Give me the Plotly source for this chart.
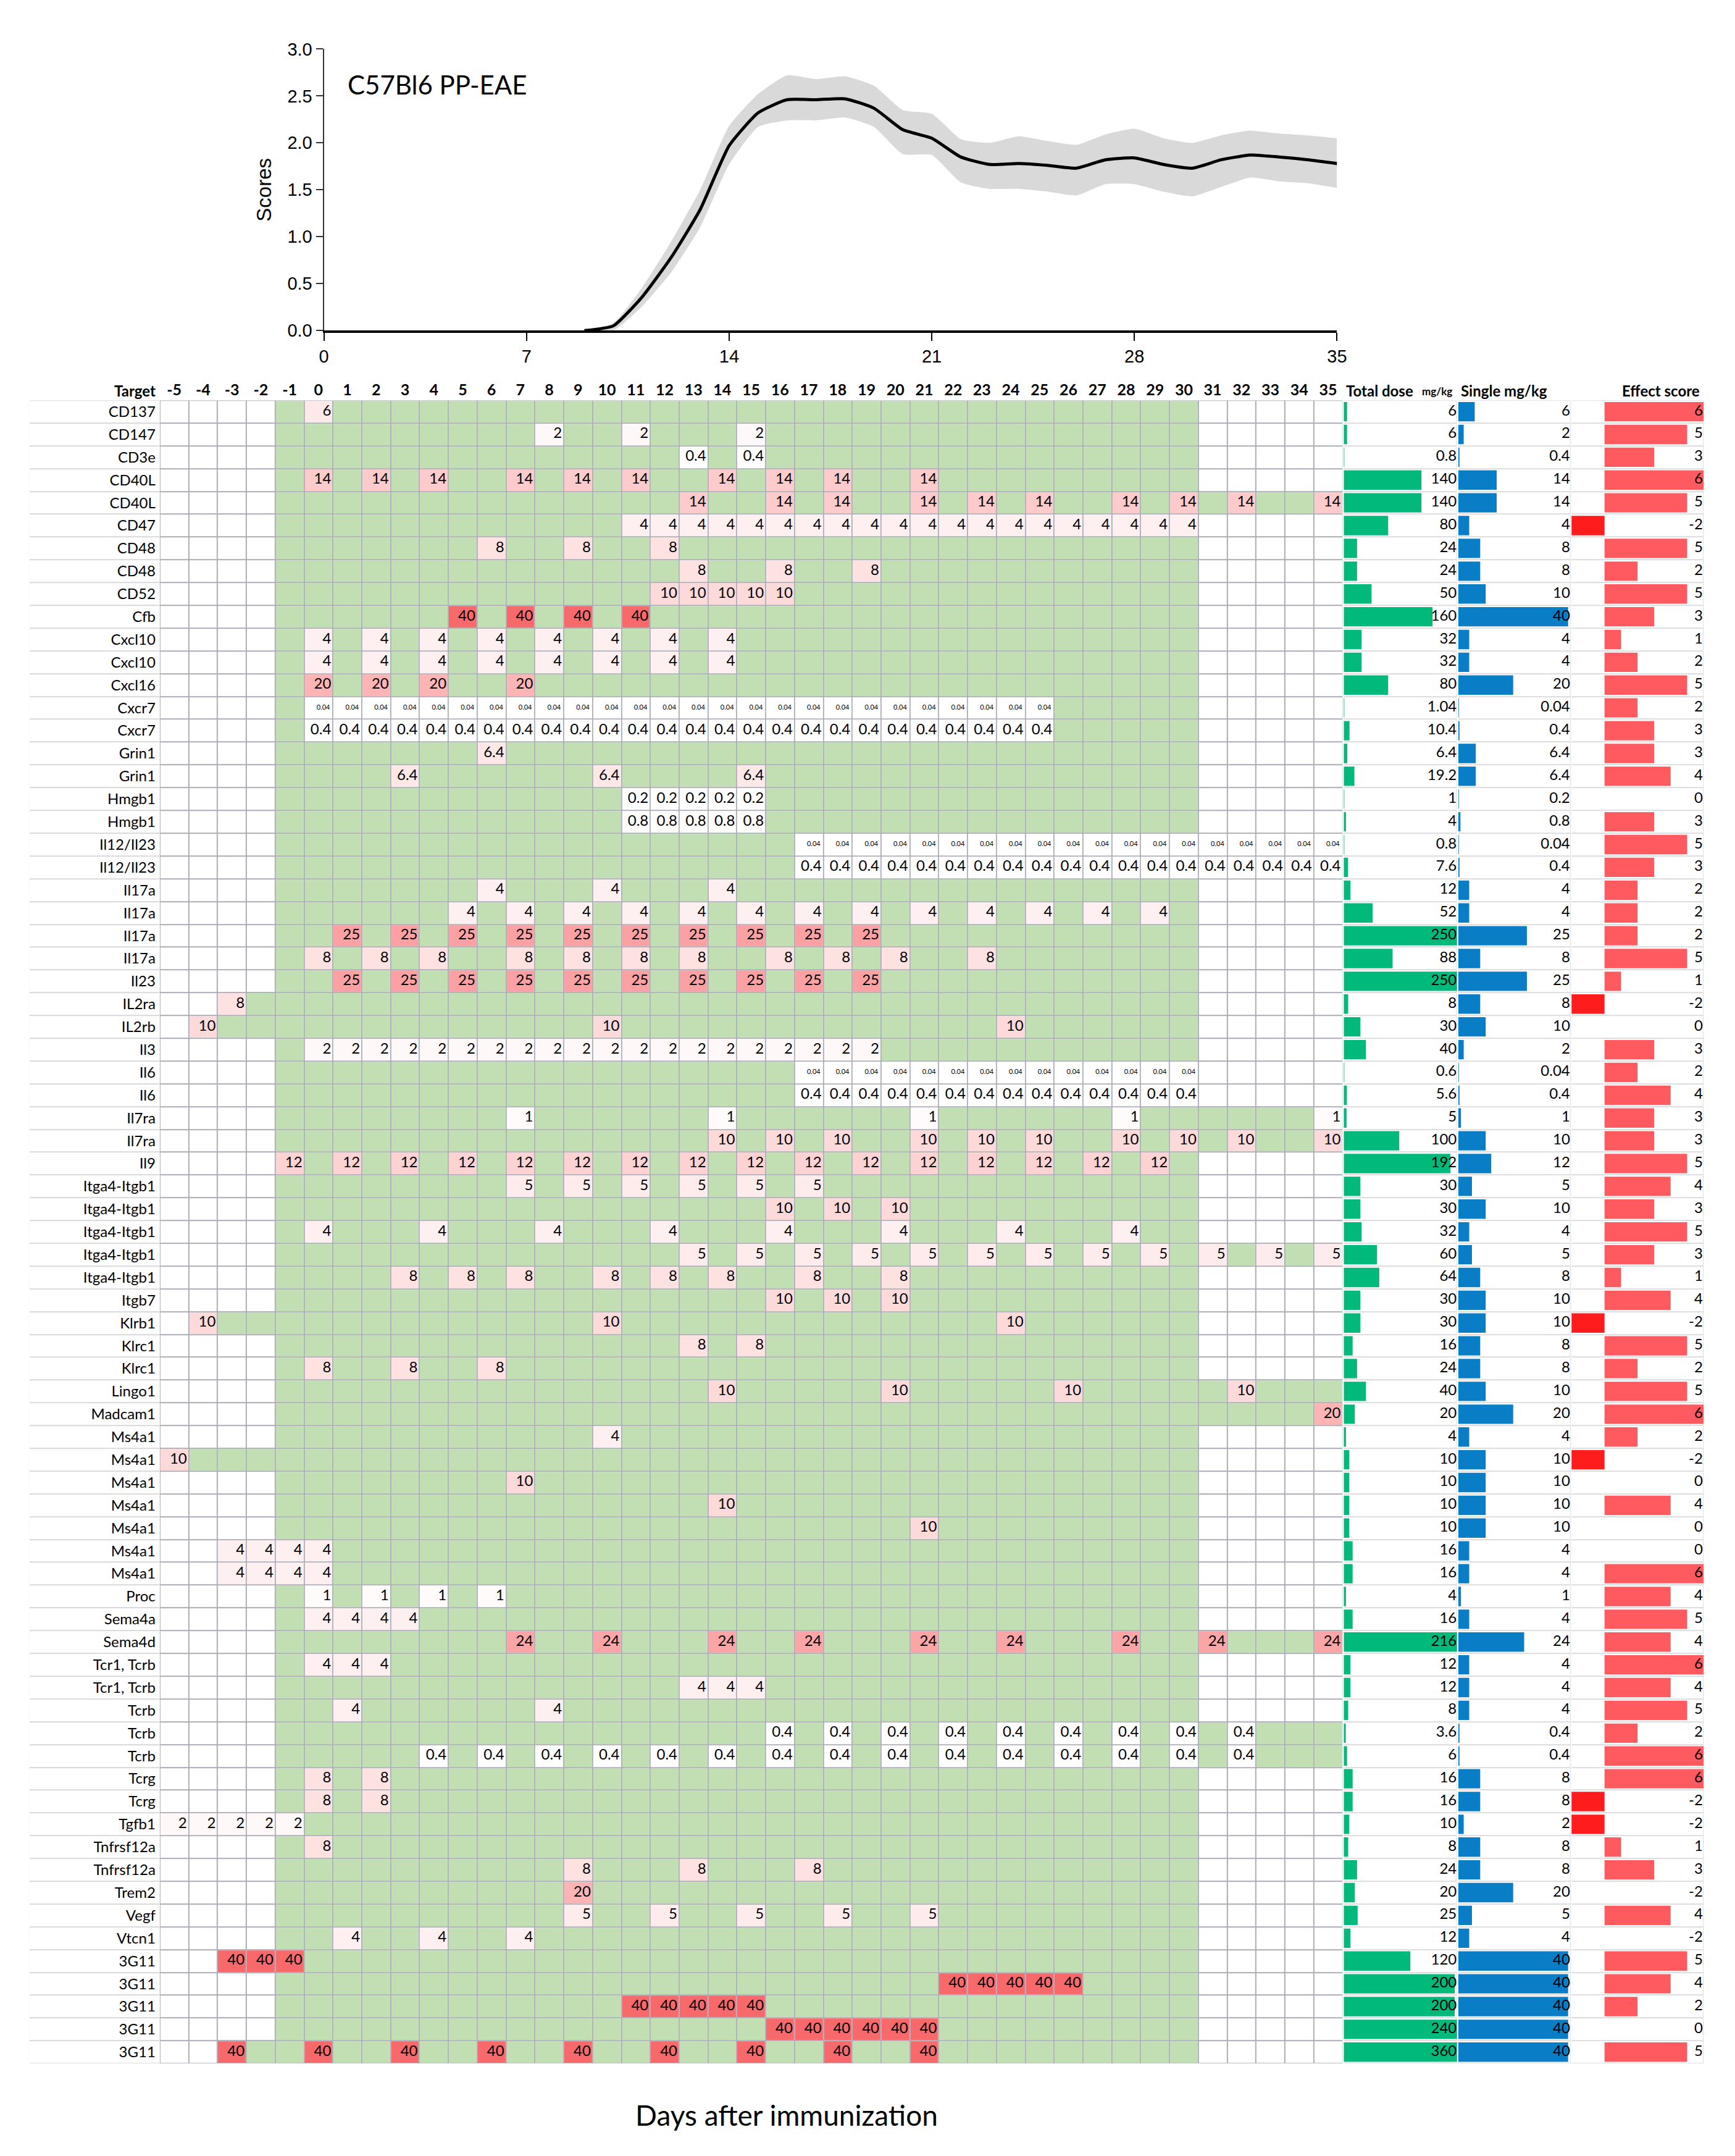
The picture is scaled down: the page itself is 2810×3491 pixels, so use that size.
import plotly.graph_objects as go

# ---------------- top chart data ----------------
score_days = [9, 10, 11, 12, 13, 14, 15, 16, 17, 18, 19, 20, 21, 22, 23, 24, 25, 26, 27, 28, 29, 30, 31, 32, 33, 34, 35]
score_mean = [0, 0.05, 0.36, 0.78, 1.29, 1.97, 2.32, 2.46, 2.46, 2.47, 2.37, 2.14, 2.05, 1.85, 1.77, 1.78, 1.76, 1.73, 1.82, 1.84, 1.77, 1.73, 1.82, 1.87, 1.85, 1.82, 1.78]
score_upper = [0, 0.08, 0.46, 0.95, 1.5, 2.18, 2.52, 2.72, 2.68, 2.71, 2.61, 2.35, 2.31, 2.04, 2.0, 2.07, 2.02, 1.98, 2.09, 2.15, 2.05, 2.0, 2.08, 2.13, 2.1, 2.08, 2.05]
score_lower = [0, 0.0, 0.26, 0.62, 1.1, 1.77, 2.17, 2.24, 2.24, 2.27, 2.17, 1.88, 1.87, 1.58, 1.51, 1.51, 1.48, 1.44, 1.56, 1.56, 1.48, 1.43, 1.53, 1.63, 1.59, 1.57, 1.52]
score_ticks = [0, 7, 14, 21, 28, 35]

# ---------------- table data ----------------
days = [-5, -4, -3, -2, -1, 0, 1, 2, 3, 4, 5, 6, 7, 8, 9, 10, 11, 12, 13, 14, 15, 16, 17, 18, 19, 20,
        21, 22, 23, 24, 25, 26, 27, 28, 29, 30, 31, 32, 33, 34, 35]

targets = ["CD137", "CD147", "CD3e", "CD40L", "CD40L", "CD47", "CD48", "CD48", "CD52", "Cfb",
           "Cxcl10", "Cxcl10", "Cxcl16", "Cxcr7", "Cxcr7", "Grin1", "Grin1", "Hmgb1", "Hmgb1", "Il12/Il23",
           "Il12/Il23", "Il17a", "Il17a", "Il17a", "Il17a", "Il23", "IL2ra", "IL2rb", "Il3", "Il6",
           "Il6", "Il7ra", "Il7ra", "Il9", "Itga4-Itgb1", "Itga4-Itgb1", "Itga4-Itgb1", "Itga4-Itgb1", "Itga4-Itgb1", "Itgb7",
           "Klrb1", "Klrc1", "Klrc1", "Lingo1", "Madcam1", "Ms4a1", "Ms4a1", "Ms4a1", "Ms4a1", "Ms4a1",
           "Ms4a1", "Ms4a1", "Proc", "Sema4a", "Sema4d", "Tcr1, Tcrb", "Tcr1, Tcrb", "Tcrb", "Tcrb", "Tcrb",
           "Tcrg", "Tcrg", "Tgfb1", "Tnfrsf12a", "Tnfrsf12a", "Trem2", "Vegf", "Vtcn1", "3G11", "3G11",
           "3G11", "3G11", "3G11"]

dose_days = [
    [0], [8, 11, 15], [13, 15], [0, 2, 4, 7, 9, 11, 14, 16, 18, 21], [13, 16, 18, 21, 23, 25, 28, 30, 32, 35],
    [11, 12, 13, 14, 15, 16, 17, 18, 19, 20, 21, 22, 23, 24, 25, 26, 27, 28, 29, 30],
    [6, 9, 12], [13, 16, 19], [12, 13, 14, 15, 16], [5, 7, 9, 11],
    [0, 2, 4, 6, 8, 10, 12, 14], [0, 2, 4, 6, 8, 10, 12, 14], [0, 2, 4, 7],
    [0, 1, 2, 3, 4, 5, 6, 7, 8, 9, 10, 11, 12, 13, 14, 15, 16, 17, 18, 19, 20, 21, 22, 23, 24, 25],
    [0, 1, 2, 3, 4, 5, 6, 7, 8, 9, 10, 11, 12, 13, 14, 15, 16, 17, 18, 19, 20, 21, 22, 23, 24, 25],
    [6], [3, 10, 15], [11, 12, 13, 14, 15], [11, 12, 13, 14, 15],
    [17, 18, 19, 20, 21, 22, 23, 24, 25, 26, 27, 28, 29, 30, 31, 32, 33, 34, 35],
    [17, 18, 19, 20, 21, 22, 23, 24, 25, 26, 27, 28, 29, 30, 31, 32, 33, 34, 35],
    [6, 10, 14], [5, 7, 9, 11, 13, 15, 17, 19, 21, 23, 25, 27, 29], [1, 3, 5, 7, 9, 11, 13, 15, 17, 19],
    [0, 2, 4, 7, 9, 11, 13, 16, 18, 20, 23], [1, 3, 5, 7, 9, 11, 13, 15, 17, 19],
    [-3], [-4, 10, 24], [0, 1, 2, 3, 4, 5, 6, 7, 8, 9, 10, 11, 12, 13, 14, 15, 16, 17, 18, 19],
    [17, 18, 19, 20, 21, 22, 23, 24, 25, 26, 27, 28, 29, 30],
    [17, 18, 19, 20, 21, 22, 23, 24, 25, 26, 27, 28, 29, 30],
    [7, 14, 21, 28, 35], [14, 16, 18, 21, 23, 25, 28, 30, 32, 35],
    [-1, 1, 3, 5, 7, 9, 11, 13, 15, 17, 19, 21, 23, 25, 27, 29],
    [7, 9, 11, 13, 15, 17], [16, 18, 20], [0, 4, 8, 12, 16, 20, 24, 28],
    [13, 15, 17, 19, 21, 23, 25, 27, 29, 31, 33, 35], [3, 5, 7, 10, 12, 14, 17, 20], [16, 18, 20],
    [-4, 10, 24], [13, 15], [0, 3, 6], [14, 20, 26, 32], [35],
    [10], [-5], [7], [14], [21], [-3, -2, -1, 0], [-3, -2, -1, 0],
    [0, 2, 4, 6], [0, 1, 2, 3], [7, 10, 14, 17, 21, 24, 28, 31, 35], [0, 1, 2], [13, 14, 15], [1, 8],
    [16, 18, 20, 22, 24, 26, 28, 30, 32], [4, 6, 8, 10, 12, 14, 16, 18, 20, 22, 24, 26, 28, 30, 32],
    [0, 2], [0, 2], [-5, -4, -3, -2, -1], [0], [9, 13, 17], [9], [9, 12, 15, 18, 21], [1, 4, 7],
    [-3, -2, -1], [22, 23, 24, 25, 26], [11, 12, 13, 14, 15], [16, 17, 18, 19, 20, 21],
    [-3, 0, 3, 6, 9, 12, 15, 18, 21],
]

single_dose = [6, 2, 0.4, 14, 14, 4, 8, 8, 10, 40,
               4, 4, 20, 0.04, 0.4, 6.4, 6.4, 0.2, 0.8, 0.04,
               0.4, 4, 4, 25, 8, 25, 8, 10, 2, 0.04,
               0.4, 1, 10, 12, 5, 10, 4, 5, 8, 10,
               10, 8, 8, 10, 20, 4, 10, 10, 10, 10,
               4, 4, 1, 4, 24, 4, 4, 4, 0.4, 0.4,
               8, 8, 2, 8, 8, 20, 5, 4, 40, 40,
               40, 40, 40]

total_dose = [6, 6, 0.8, 140, 140, 80, 24, 24, 50, 160,
              32, 32, 80, 1.04, 10.4, 6.4, 19.2, 1, 4, 0.8,
              7.6, 12, 52, 250, 88, 250, 8, 30, 40, 0.6,
              5.6, 5, 100, 192, 30, 30, 32, 60, 64, 30,
              30, 16, 24, 40, 20, 4, 10, 10, 10, 10,
              16, 16, 4, 16, 216, 12, 12, 8, 3.6, 6,
              16, 16, 10, 8, 24, 20, 25, 12, 120, 200,
              200, 240, 360]

effect_score = [6, 5, 3, 6, 5, -2, 5, 2, 5, 3,
                1, 2, 5, 2, 3, 3, 4, 0, 3, 5,
                3, 2, 2, 2, 5, 1, -2, 0, 3, 2,
                4, 3, 3, 5, 4, 3, 5, 3, 1, 4,
                -2, 5, 2, 5, 6, 2, -2, 0, 4, 0,
                0, 6, 4, 5, 4, 6, 4, 5, 2, 6,
                6, -2, -2, 1, 3, -2, 4, -2, 5, 4,
                2, 0, 5]
no_bar_targets = ["Trem2", "Vtcn1"]

# treatment window (green period) per row
window_start = [-1, -1, -1, -1, -1, -1, -1, -1, -1, -1,
                -1, -1, -1, -1, -1, -1, -1, -1, -1, -1,
                -1, -1, -1, -1, -1, -1, -3, -4, -1, -1,
                -1, -1, -1, -1, -1, -1, -1, -1, -1, -1,
                -4, -1, -1, -1, -1, -1, -5, -1, -1, -1,
                -3, -3, -1, -1, -1, -1, -1, -1, -1, -1,
                -1, -1, -5, -1, -1, -1, -1, -1, -3, -1,
                -1, -1, -3]
window_end = [30, 30, 30, 30, 35, 30, 30, 30, 30, 30,
              30, 30, 30, 30, 30, 30, 30, 30, 30, 35,
              35, 30, 30, 30, 30, 30, 30, 30, 30, 30,
              30, 35, 35, 30, 30, 30, 30, 35, 30, 30,
              30, 30, 30, 35, 35, 30, 30, 30, 30, 30,
              30, 30, 30, 30, 35, 30, 30, 30, 35, 35,
              30, 30, 30, 30, 30, 30, 30, 30, 30, 30,
              30, 30, 30]

# ---------------- build figure ----------------
FONT = "Lato, Open Sans, sans-serif"
ARIAL = "Liberation Sans, Arial, sans-serif"
n = len(targets)
rows = list(range(n))


def fmt(v):
    return f"{v:g}"


green_z, dose_z = [], []
lab_x, lab_y, lab_t = [], [], []
sm_x, sm_y, sm_t = [], [], []
for r in range(n):
    gz, dz = [], []
    for d in days:
        if d in dose_days[r]:
            v = single_dose[r]
            dz.append(v)
            gz.append(None)
            if v < 0.1:
                sm_x.append(d + 0.40); sm_y.append(r); sm_t.append(fmt(v))
            else:
                lab_x.append(d + 0.44); lab_y.append(r); lab_t.append(fmt(v))
        else:
            dz.append(None)
            gz.append(1 if window_start[r] <= d <= window_end[r] else None)
    green_z.append(gz); dose_z.append(dz)

fig = go.Figure()


def solid(c):
    return [[0, c], [1, c]]


# label column background
fig.add_trace(go.Heatmap(z=[[1] for _ in rows], x=[0, 1], y=rows, colorscale=solid("#D9D9D9"),
                         showscale=False, hoverinfo="skip", xaxis="x", yaxis="y"))
fig.add_trace(go.Heatmap(z=[[1] for _ in rows], x=[0, 1], y=rows, colorscale=solid("#FFFFFF"),
                         showscale=False, hoverinfo="skip", ygap=2, xaxis="x", yaxis="y"))

# day grid
allz = [[1 for _ in days] for _ in rows]
fig.add_trace(go.Heatmap(z=allz, x=days, y=rows, colorscale=solid("#ADADB8"), showscale=False,
                         hoverinfo="skip", xaxis="x2", yaxis="y2"))
fig.add_trace(go.Heatmap(z=allz, x=days, y=rows, colorscale=solid("#FFFFFF"), showscale=False,
                         hoverinfo="skip", xgap=2, ygap=2, xaxis="x2", yaxis="y2"))
fig.add_trace(go.Heatmap(z=green_z, x=days, y=rows, colorscale=solid("#C1DFB3"), showscale=False,
                         hoverinfo="skip", xgap=2, ygap=2, xaxis="x2", yaxis="y2"))
red_scale = [[0, "#FFFFFF"], [1, "#F8696B"]]
fig.add_trace(go.Heatmap(z=dose_z, x=days, y=rows, colorscale=red_scale, zmin=0, zmax=40, showscale=False,
                         hoverinfo="skip", xgap=2, ygap=2, xaxis="x2", yaxis="y2"))
fig.add_trace(go.Scatter(x=lab_x, y=lab_y, mode="text", text=lab_t, textposition="middle left",
                         textfont=dict(family=FONT, size=24, color="black"), cliponaxis=False,
                         hoverinfo="skip", xaxis="x2", yaxis="y2"))
fig.add_trace(go.Scatter(x=sm_x, y=sm_y, mode="text", text=sm_t, textposition="middle left",
                         textfont=dict(family=FONT, size=11, color="black"), cliponaxis=False,
                         hoverinfo="skip", xaxis="x2", yaxis="y2"))

# right-hand columns
cols = [("x3", "y3", 204, total_dose, "#00B97A", 203.5),
        ("x4", "y4", 41, single_dose, "#0A7DC7", 40.7)]
for xa, ya, xmax, vals, color, txtx in cols:
    fig.add_trace(go.Heatmap(z=[[1] for _ in rows], x=[0, xmax], y=rows, colorscale=solid("#DCDCDC"),
                             showscale=False, hoverinfo="skip", xaxis=xa, yaxis=ya))
    fig.add_trace(go.Heatmap(z=[[1] for _ in rows], x=[0, xmax], y=rows, colorscale=solid("#FFFFFF"),
                             showscale=False, hoverinfo="skip", ygap=2, xgap=1, xaxis=xa, yaxis=ya))
    fig.add_trace(go.Bar(x=vals, y=rows, orientation="h", marker=dict(color=color, line=dict(width=0)),
                         width=0.85, hoverinfo="skip", xaxis=xa, yaxis=ya))
    fig.add_trace(go.Scatter(x=[txtx] * n, y=rows, mode="text", text=[fmt(v) for v in vals],
                             textposition="middle left", cliponaxis=False,
                             textfont=dict(family=FONT, size=24, color="black"),
                             hoverinfo="skip", xaxis=xa, yaxis=ya))

# effect score column
fig.add_trace(go.Heatmap(z=[[1] for _ in rows], x=[-2, 6], y=rows, colorscale=solid("#DCDCDC"),
                         showscale=False, hoverinfo="skip", xaxis="x5", yaxis="y5"))
fig.add_trace(go.Heatmap(z=[[1] for _ in rows], x=[-2, 6], y=rows, colorscale=solid("#FFFFFF"),
                         showscale=False, hoverinfo="skip", ygap=2, xgap=1, xaxis="x5", yaxis="y5"))
eff_bar = [None if targets[i] in no_bar_targets else effect_score[i] for i in rows]
eff_col = ["#FF1C1C" if v < 0 else "#FF5A60" for v in effect_score]
fig.add_trace(go.Bar(x=eff_bar, y=rows, orientation="h", marker=dict(color=eff_col, line=dict(width=0)),
                     width=0.85, hoverinfo="skip", xaxis="x5", yaxis="y5"))
fig.add_trace(go.Scatter(x=[5.95] * n, y=rows, mode="text", text=[fmt(v) for v in effect_score],
                         textposition="middle left", cliponaxis=False,
                         textfont=dict(family=FONT, size=24, color="black"),
                         hoverinfo="skip", xaxis="x5", yaxis="y5"))

# top clinical score chart
fig.add_trace(go.Scatter(x=score_days, y=score_upper, mode="lines", line=dict(width=0, shape="spline", smoothing=0.5),
                         hoverinfo="skip", xaxis="x6", yaxis="y6"))
fig.add_trace(go.Scatter(x=score_days, y=score_lower, mode="lines", line=dict(width=0, shape="spline", smoothing=0.5),
                         fill="tonexty", fillcolor="#D9D9D9", hoverinfo="skip", xaxis="x6", yaxis="y6"))
fig.add_trace(go.Scatter(x=score_days, y=score_mean, mode="lines",
                         line=dict(color="black", width=5, shape="spline", smoothing=0.5),
                         hoverinfo="skip", xaxis="x6", yaxis="y6"))

W, H = 2810, 3491


def px(x):
    return x / W


def py(y):
    return 1 - y / H


grid_dom = [py(3356), py(638)]
rng = [n - 0.5, -0.5]
hidden = dict(visible=False, showgrid=False, zeroline=False)

fig.update_layout(
    width=W, height=H, margin=dict(l=0, r=0, t=0, b=0),
    paper_bgcolor="white", plot_bgcolor="white", showlegend=False,
    font=dict(family=FONT, color="black"),
    xaxis=dict(domain=[px(40), px(253)], range=[0, 1], anchor="y", **hidden),
    yaxis=dict(domain=grid_dom, range=rng, anchor="x", **hidden),
    xaxis2=dict(domain=[px(253), px(2185)], range=[-5.5, 35.5], anchor="y2", side="top",
                tickmode="array", tickvals=days, ticktext=[str(d) for d in days],
                tickfont=dict(family=FONT, size=25, color="black", weight="bold"),
                ticks="", showgrid=False, zeroline=False, showline=False, ticklabelstandoff=2),
    yaxis2=dict(domain=grid_dom, range=rng, anchor="x2",
                tickmode="array", tickvals=rows, ticktext=targets,
                tickfont=dict(family=FONT, size=24, color="black"),
                ticks="", showgrid=False, zeroline=False, showline=False, ticklabelstandoff=6),
    xaxis3=dict(domain=[px(2187), px(2372)], range=[0, 204], anchor="y3", **hidden),
    yaxis3=dict(domain=grid_dom, range=rng, anchor="x3", **hidden),
    xaxis4=dict(domain=[px(2374), px(2558)], range=[0, 41], anchor="y4", **hidden),
    yaxis4=dict(domain=grid_dom, range=rng, anchor="x4", **hidden),
    xaxis5=dict(domain=[px(2559), px(2775)], range=[-2, 6], anchor="y5", visible=True,
                showgrid=False, showticklabels=False, ticks="", showline=False,
                zeroline=True, zerolinecolor="#B0B0B0", zerolinewidth=1),
    yaxis5=dict(domain=grid_dom, range=rng, anchor="x5", **hidden),
    xaxis6=dict(domain=[px(521), px(2176)], range=[0, 35], anchor="y6",
                tickmode="array", tickvals=score_ticks, ticks="outside", ticklen=13, tickwidth=2,
                tickcolor="black", showline=True, linewidth=4, linecolor="black",
                showgrid=False, zeroline=False,
                tickfont=dict(family=ARIAL, size=29, color="black")),
    yaxis6=dict(domain=[py(524), py(64)], range=[0, 3], anchor="x6", dtick=0.5, tickformat=".1f",
                ticks="outside", ticklen=11, tickwidth=2, tickcolor="#333333",
                showline=True, linewidth=2, linecolor="#333333", showgrid=False, zeroline=False,
                tickfont=dict(family=ARIAL, size=29, color="black"),
                title=dict(text="Scores", font=dict(family=ARIAL, size=33), standoff=16)),
)

ann = [
    dict(text="Target", x=px(248), y=py(622), xanchor="right", font=dict(size=24, weight="bold")),
    dict(text="Total dose", x=px(2189), y=py(622), xanchor="left", font=dict(size=24, weight="bold")),
    dict(text="mg/kg", x=px(2313), y=py(623), xanchor="left", font=dict(size=17, weight="bold")),
    dict(text="Single mg/kg", x=px(2376), y=py(622), xanchor="left", font=dict(size=24, weight="bold")),
    dict(text="Effect score", x=px(2771), y=py(622), xanchor="right", font=dict(size=24, weight="bold")),
    dict(text="C57Bl6 PP-EAE", x=px(558), y=py(122), xanchor="left", font=dict(size=42)),
    dict(text="Days after immunization", x=px(1277), y=py(3440), xanchor="center", font=dict(size=46)),
]
for a in ann:
    a.update(xref="paper", yref="paper", yanchor="middle", showarrow=False)
    a["font"] = dict(family=FONT, color="black", **a["font"])
fig.update_layout(annotations=ann)

fig.write_html("out.html", config={"displayModeBar": False},
               post_script="document.body.style.margin='0px';")
